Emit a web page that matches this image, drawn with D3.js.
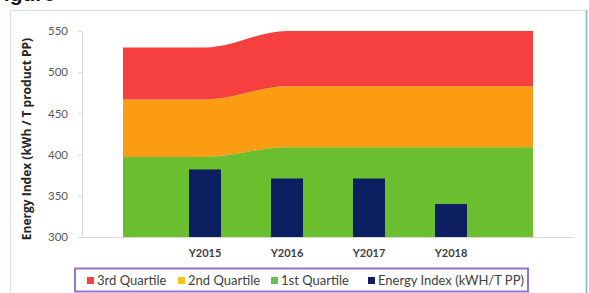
<!DOCTYPE html>
<html><head><meta charset="utf-8">
<script src="https://cdn.jsdelivr.net/npm/d3@7"></script>
<style>body{margin:0;background:#fff;} svg{display:block;}</style>
</head><body>
<svg id="c" width="589" height="293"></svg>
<script>
const categories = ["", "Y2015", "Y2016", "Y2017", "Y2018", ""];
const firstQuartileTop  = [397, 397, 409, 409, 409, 409];
const secondQuartileTop = [467, 467, 483, 483, 483, 483];
const thirdQuartileTop  = [530, 530, 550, 550, 550, 550];
const energyIndex = [null, 382, 371, 371, 340, null];
const yTicks = [300, 350, 400, 450, 500, 550];
const legendLabels = ["3rd Quartile", "2nd Quartile", "1st Quartile", "Energy Index (kWH/T PP)"];

const colors = {red:"#f6403f", orange:"#fb9c13", green:"#6bbf2e", navy:"#0c1f61"};
const svg = d3.select("#c");
const font = "Lato, 'Open Sans', sans-serif";

// frame
svg.append("rect").attr("x",10.5).attr("y",10.5).attr("width",576).attr("height",290)
  .attr("fill","#fff").attr("stroke","#d6e4ea").attr("stroke-width",1);
svg.append("line").attr("x1",586.5).attr("x2",586.5).attr("y1",10).attr("y2",293)
  .attr("stroke","#7fb0df").attr("stroke-width",1.5);

// cut-off heading
svg.append("text").attr("x",-9).attr("y",1).attr("font-family","Arial, sans-serif")
  .attr("font-weight","bold").attr("font-size",21).attr("fill","#111").text("Figure");

const x = d3.scaleBand().domain(d3.range(categories.length)).range([82, 574]).padding(0);
const y = d3.scaleLinear().domain([300, 550]).range([237, 31]);
const cx = i => x(i) + x.bandwidth()/2;

const layers = [
  {lo: firstQuartileTop, hi: secondQuartileTop, c: colors.orange},
  {lo: secondQuartileTop, hi: thirdQuartileTop, c: colors.red},
  {lo: categories.map(()=>300), hi: firstQuartileTop, c: colors.green},
];
layers.forEach(L => {
  const area = d3.area().x((d,i)=>cx(i)).y0((d,i)=>y(L.lo[i])).y1(d=>y(d)).curve(d3.curveMonotoneX);
  svg.append("path").attr("d", area(L.hi)).attr("fill", L.c);
});

// bars
const bw = x.bandwidth()*0.39;
svg.append("g").selectAll("rect").data(energyIndex.map((v,i)=>({v,i})).filter(d=>d.v!=null))
  .join("rect").attr("x",d=>cx(d.i)-bw/2).attr("width",bw)
  .attr("y",d=>y(d.v)).attr("height",d=>y(300)-y(d.v)).attr("fill",colors.navy);

// y axis
const ya = svg.append("g").attr("transform","translate(82,0)")
  .call(d3.axisLeft(y).tickValues(yTicks).tickSize(4).tickPadding(10));
ya.select(".domain").attr("stroke","#d9d9d9");
ya.selectAll(".tick line").attr("stroke","#d9d9d9");
ya.selectAll("text").attr("font-family",font).attr("font-size",11.5).attr("fill","#595959");

// x axis
const xa = svg.append("g").attr("transform","translate(0,237)")
  .call(d3.axisBottom(x).tickFormat(i=>categories[i]).tickSize(0).tickPadding(12));
xa.select(".domain").attr("stroke","#d9d9d9");
xa.selectAll("text").attr("font-family",font).attr("font-weight","bold").attr("font-size",11).attr("fill","#404040");

// y title
svg.append("text").attr("transform","translate(31,139) rotate(-90)").attr("text-anchor","middle")
  .attr("font-family","'Open Sans', sans-serif").attr("font-weight","bold").attr("font-size",12).attr("fill","#262626")
  .text("Energy Index (kWh / T product PP)");

// legend
svg.append("rect").attr("x",75).attr("y",268.5).attr("width",453).attr("height",23)
  .attr("fill","#fff").attr("stroke","#9474c4").attr("stroke-width",2);
const legColors = [colors.red, "#f7c21a", "#5cc44a", colors.navy];
const legX = [87, 178, 271, 368];
legendLabels.forEach((t,i)=>{
  svg.append("rect").attr("x",legX[i]).attr("y",277).attr("width",7).attr("height",7).attr("fill",legColors[i]);
  svg.append("text").attr("x",legX[i]+10).attr("y",284.5).attr("font-family",font)
    .attr("font-size",13).attr("fill","#404040").text(t);
});
</script>
</body></html>
